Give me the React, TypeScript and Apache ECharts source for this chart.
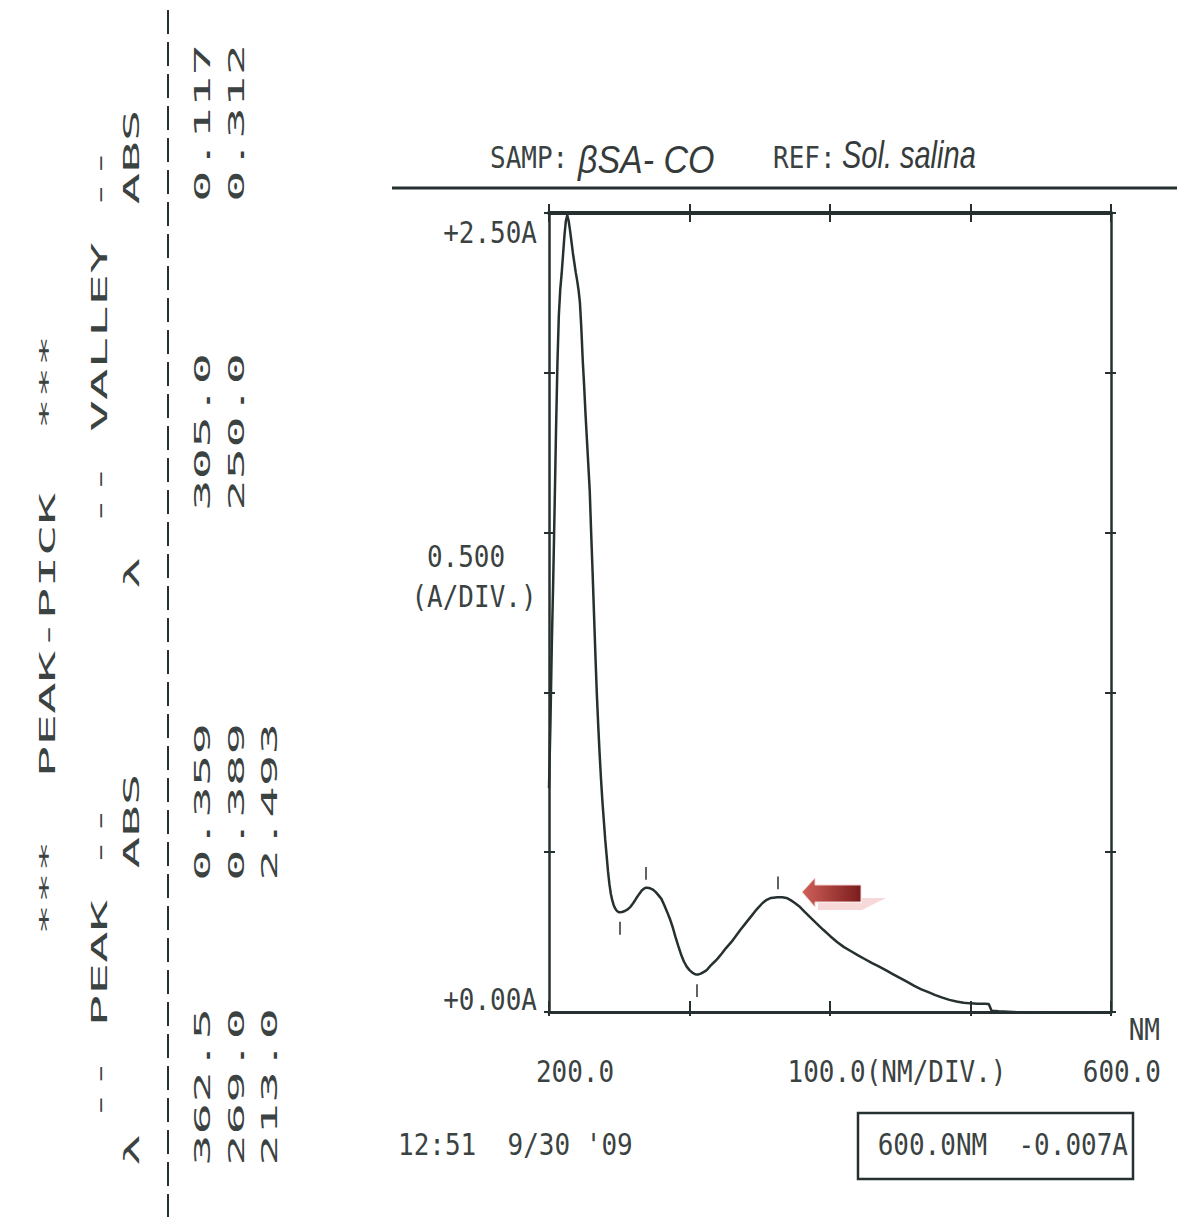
import React, { useEffect, useRef } from "react";
import * as echarts from "echarts";

// ---- data ----
const wavelengthNm = [
  200, 201, 202, 203, 204, 205, 206, 207, 208, 209, 210, 211, 212, 213, 214, 215, 216, 217, 218, 219,
  220, 221, 222, 223, 224, 225, 226, 227, 228, 229, 230, 231, 232, 233, 234, 235, 236, 237, 238, 239,
  240, 241, 242, 243, 244, 245, 246, 247, 248, 249, 250, 252, 254, 256, 258, 260, 262, 264, 266, 268,
  269, 270, 272, 274, 276, 278, 280, 282, 284, 286, 288, 290, 292, 294, 296, 298, 300, 302, 304, 305,
  306, 308, 310, 312, 315, 318, 320, 323, 326, 330, 333, 336, 340, 344, 348, 352, 355, 358, 362.5, 366,
  369, 372, 375, 378, 382, 386, 390, 395, 400, 405, 410, 415, 420, 425, 430, 435, 440, 445, 450, 455,
  460, 465, 470, 475, 480, 485, 490, 495, 500, 505, 510, 513, 515, 520, 530, 540, 550, 560, 570, 580,
  590, 600,
];
const absorbance = [
  0.7, 0.9, 1.15, 1.35, 1.58, 1.82, 2.03, 2.18, 2.26, 2.31, 2.37, 2.43, 2.475, 2.493, 2.475, 2.445, 2.41, 2.375, 2.345, 2.315,
  2.29, 2.26, 2.22, 2.14, 2.04, 1.96, 1.87, 1.79, 1.71, 1.63, 1.5, 1.38, 1.25, 1.12, 1.0, 0.9, 0.81, 0.73, 0.66, 0.6,
  0.54, 0.49, 0.44, 0.4, 0.37, 0.35, 0.335, 0.325, 0.318, 0.314, 0.312, 0.313, 0.316, 0.321, 0.329, 0.341, 0.355, 0.368, 0.38, 0.387,
  0.389, 0.389, 0.387, 0.383, 0.375, 0.365, 0.354, 0.335, 0.314, 0.292, 0.266, 0.235, 0.207, 0.18, 0.158, 0.142, 0.131, 0.123, 0.118, 0.117,
  0.117, 0.12, 0.125, 0.13, 0.145, 0.158, 0.167, 0.183, 0.2, 0.22, 0.238, 0.256, 0.278, 0.3, 0.322, 0.341, 0.351, 0.357, 0.359, 0.359,
  0.357, 0.35, 0.341, 0.331, 0.313, 0.296, 0.279, 0.258, 0.238, 0.219, 0.203, 0.19, 0.177, 0.165, 0.153, 0.142, 0.13, 0.118, 0.106, 0.094,
  0.082, 0.071, 0.062, 0.053, 0.045, 0.038, 0.033, 0.029, 0.027, 0.026, 0.026, 0.025, 0.004, 0.002, 0.0, -0.002, -0.003, -0.004, -0.005, -0.006,
  -0.006, -0.007,
];
const peakNm = [362.5, 269.0, 213.0];
const peakAbs = [0.359, 0.389, 2.493];
const valleyNm = [305.0, 250.0];
const valleyAbs = [0.117, 0.312];
const xTickNm = [200, 600];
const yTickAbs = [2.5, 0];
const cursorNm = 600.0;
const cursorAbs = -0.007;

const MONO = "'DejaVu Sans Mono', 'Liberation Mono', monospace";
const TXT = "#3b4242";
const LINE = "#263030";
const HAND = (size: number) => `italic ${size}px 'Liberation Sans', 'DejaVu Sans', sans-serif`;

function hText(text: string, x: number, y: number, align: string = "left", size = 26, extra: any = {}, sy = 1.18) {
  return {
    type: "text",
    x,
    y,
    scaleY: sy,
    silent: true,
    style: {
      text,
      x: 0,
      y: 0,
      fill: TXT,
      font: `${size}px ${MONO}`,
      align,
      verticalAlign: "middle",
      textAlign: align,
      textVerticalAlign: "middle",
      ...extra,
    },
  };
}

function vText(text: string, x: number, y: number) {
  return {
    type: "text",
    x,
    y,
    rotation: Math.PI / 2,
    scaleX: 2.5,
    silent: true,
    style: {
      text,
      x: 0,
      y: 0,
      fill: TXT,
      font: `21px ${MONO}`,
      align: "center",
      verticalAlign: "middle",
      textAlign: "center",
      textVerticalAlign: "middle",
    },
  };
}

export default function App() {
  const ref = useRef<HTMLDivElement>(null);

  useEffect(() => {
    if (!ref.current) return;
    const chart = echarts.init(ref.current, undefined, { renderer: "svg" });

    const seriesData = wavelengthNm.map((w, i) => [w, absorbance[i]]);
    const markData: any[] = [];
    peakNm.forEach((w, i) => {
      if (peakAbs[i] < 2.4) markData.push([{ coord: [w, peakAbs[i] + 0.025] }, { coord: [w, peakAbs[i] + 0.065] }]);
    });
    valleyNm.forEach((w, i) => {
      markData.push([{ coord: [w, valleyAbs[i] - 0.03] }, { coord: [w, valleyAbs[i] - 0.07] }]);
    });

    const fmtNm = (v: number) => v.toFixed(1);
    const fmtA = (v: number) => (v >= 0 ? "+" : "") + v.toFixed(2) + "A";

    const xBase = { type: "value", min: 200, max: 600, interval: 100, axisLabel: { show: false }, splitLine: { show: false } };
    const yBase = { type: "value", min: 0, max: 2.5, interval: 0.5, axisLabel: { show: false }, splitLine: { show: false } };

    const graphics: any[] = [
      // header
      hText("SAMP:", 490, 158),
      hText("βSA- CO", 578, 160, "left", 34, { font: HAND(34), fill: "#353b3b" }, 1.15),
      hText("REF:", 773, 158),
      hText("Sol. salina", 842, 154, "left", 29, { font: HAND(29), fill: "#353b3b" }, 1.35),
      { type: "line", silent: true, shape: { x1: 392, y1: 188, x2: 1177, y2: 188 }, style: { stroke: LINE, lineWidth: 3 } },
      // y labels
      hText(fmtA(yTickAbs[0]), 537, 233, "right"),
      hText("0.500", 466, 557, "center"),
      hText("(A/DIV.)", 474, 597, "center"),
      hText(fmtA(yTickAbs[1]), 537, 1000, "right"),
      // x labels
      hText(fmtNm(xTickNm[0]), 575, 1072, "center"),
      hText("100.0(NM/DIV.)", 897, 1072, "center"),
      hText("NM", 1160, 1030, "right"),
      hText(fmtNm(xTickNm[1]), 1161, 1072, "right"),
      // footer
      hText("12:51  9/30 '09", 398, 1145),
      { type: "rect", silent: true, shape: { x: 858, y: 1113, width: 275, height: 66 }, style: { fill: "none", stroke: LINE, lineWidth: 2.5 } },
      hText(`${cursorNm.toFixed(1)}NM  ${cursorAbs.toFixed(3)}A`, 1128, 1145, "right"),
      // arrow shadow + arrow
      {
        type: "polygon",
        silent: true,
        shape: { points: [[818, 910], [862, 910], [886, 898], [862, 898], [862, 903], [818, 903]] },
        style: { fill: "#f7d9d9" },
      },
      {
        type: "polygon",
        silent: true,
        shape: { points: [[802, 892], [815, 878], [815, 885], [861, 885], [861, 902], [815, 902], [815, 907]] },
        style: {
          fill: new echarts.graphic.LinearGradient(0, 0, 1, 0, [
            { offset: 0, color: "#d0605a" },
            { offset: 1, color: "#7a1c1c" },
          ]),
          stroke: "#f4d4d4",
          lineWidth: 1,
        },
      },
      // left rotated table
      { type: "line", silent: true, shape: { x1: 168, y1: 10, x2: 168, y2: 1217 }, style: { stroke: LINE, lineWidth: 2, lineDash: [24, 8] } },
      vText("***  PEAK-PICK  ***", 48, 635),
      vText("-- PEAK --", 100, 963),
      vText("-- VALLEY --", 100, 337),
      vText("λ", 132, 1150),
      vText("ABS", 132, 821),
      vText("λ", 132, 573),
      vText("ABS", 132, 157),
    ];
    const colX = [203, 237, 270];
    peakNm.forEach((w, i) => {
      graphics.push(vText(w.toFixed(1), colX[i], 1087));
      graphics.push(vText(peakAbs[i].toFixed(3), colX[i], 802));
    });
    valleyNm.forEach((w, i) => {
      graphics.push(vText(w.toFixed(1), colX[i], 432));
      graphics.push(vText(valleyAbs[i].toFixed(3), colX[i], 123));
    });

    chart.setOption({
      animation: false,
      backgroundColor: "#ffffff",
      grid: { left: 549, top: 213, width: 562, height: 799 },
      xAxis: [
        { ...xBase, position: "bottom", axisLine: { onZero: false, lineStyle: { color: LINE, width: 3 } }, axisTick: { inside: true, length: 11, lineStyle: { color: LINE, width: 2 } } },
        { ...xBase, position: "bottom", axisLine: { show: false, onZero: false }, axisTick: { inside: false, length: 4, lineStyle: { color: LINE, width: 2 } } },
        { ...xBase, position: "top", axisLine: { onZero: false, lineStyle: { color: LINE, width: 4 } }, axisTick: { inside: true, length: 9, lineStyle: { color: LINE, width: 2 } } },
        { ...xBase, position: "top", axisLine: { show: false, onZero: false }, axisTick: { inside: false, length: 9, lineStyle: { color: LINE, width: 2 } } },
      ],
      yAxis: [
        { ...yBase, position: "left", axisLine: { show: true, onZero: false, lineStyle: { color: LINE, width: 2.5 } }, axisTick: { show: true, inside: true, length: 6, lineStyle: { color: LINE, width: 2 } } },
        { ...yBase, position: "left", axisLine: { show: false, onZero: false }, axisTick: { show: true, inside: false, length: 5, lineStyle: { color: LINE, width: 2 } } },
        { ...yBase, position: "right", axisLine: { show: true, onZero: false, lineStyle: { color: LINE, width: 2.5 } }, axisTick: { show: true, inside: true, length: 6, lineStyle: { color: LINE, width: 2 } } },
        { ...yBase, position: "right", axisLine: { show: false, onZero: false }, axisTick: { show: true, inside: false, length: 5, lineStyle: { color: LINE, width: 2 } } },
      ],
      series: [
        {
          type: "line",
          xAxisIndex: 0,
          yAxisIndex: 0,
          data: seriesData,
          showSymbol: false,
          symbol: "none",
          clip: true,
          lineStyle: { color: LINE, width: 2.5 },
          silent: true,
          markLine: {
            silent: true,
            symbol: ["none", "none"],
            label: { show: false },
            lineStyle: { color: LINE, width: 1.5, type: "solid" },
            data: markData,
          },
        },
      ],
      graphic: graphics,
    });

    return () => chart.dispose();
  }, []);

  return (
    <div
      ref={ref}
      style={{ position: "absolute", left: 0, top: 0, width: 1185, height: 1217, background: "#ffffff" }}
    />
  );
}
